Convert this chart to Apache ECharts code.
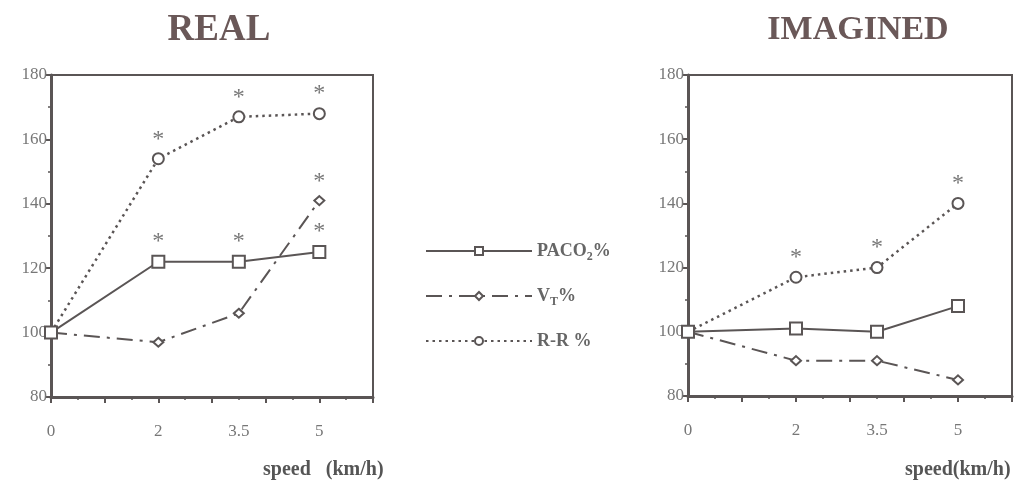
<!DOCTYPE html>
<html>
<head>
<meta charset="utf-8">
<script src="https://cdn.jsdelivr.net/npm/echarts@6/dist/echarts.min.js"></script>
<style>
  html, body { margin: 0; padding: 0; background: #fff; }
  #main { width: 1017px; height: 481px; }
</style>
</head>
<body>
<div id="main"></div>
<script>
// speeds (km/h) on the x axis
let speeds = [0, 2, 3.5, 5];
let speedLabels = [0, 2, 3.5, 5];

// REAL
let realPaco2 = [100, 122, 122, 125];
let realVt = [100, 97, 106, 141];
let realRr = [100, 154, 167, 168];
let realPaco2Sig = [0, 1, 1, 1];
let realVtSig = [0, 0, 0, 1];
let realRrSig = [0, 1, 1, 1];

// IMAGINED
let imgPaco2 = [100, 101, 100, 108];
let imgVt = [100, 91, 91, 85];
let imgRr = [100, 117, 120, 140];
let imgPaco2Sig = [0, 0, 0, 0];
let imgVtSig = [0, 0, 0, 0];
let imgRrSig = [0, 1, 1, 1];

const ink = '#5a5555';
const serif = '"Liberation Serif", "DejaVu Serif", serif';

function pts(vals) {
  return speeds.map(function (s, i) { return [s, vals[i]]; });
}

// asterisk over significant points
function starLabel(sig) {
  return {
    show: true,
    position: 'top',
    distance: 1,
    fontFamily: serif,
    fontSize: 24,
    color: '#777',
    formatter: function (p) { return sig[p.dataIndex] ? '*' : ''; }
  };
}

function xAxisOf(idx) {
  return {
    gridIndex: idx,
    type: 'value',
    min: 0,
    max: 6,
    interval: 1,
    axisLine: { show: true, onZero: false, lineStyle: { color: ink, width: 3 } },
    axisTick: { show: true, length: 6, lineStyle: { color: ink, width: 2 } },
    minorTick: { show: true, splitNumber: 2, length: 3, lineStyle: { color: ink, width: 1.5 } },
    axisLabel: {
      customValues: speedLabels,
      margin: 26,
      fontFamily: serif,
      fontSize: 17,
      color: '#777'
    },
    splitLine: { show: false }
  };
}

function yAxisOf(idx) {
  return {
    gridIndex: idx,
    type: 'value',
    min: 80,
    max: 180,
    interval: 20,
    axisLine: { show: true, lineStyle: { color: ink, width: 3 } },
    axisTick: { show: true, length: 6, lineStyle: { color: ink, width: 2 } },
    minorTick: { show: true, splitNumber: 2, length: 3, lineStyle: { color: ink, width: 1.5 } },
    axisLabel: { margin: 4, fontFamily: serif, fontSize: 17, color: '#777' },
    splitLine: { show: false }
  };
}

function seriesSet(idx, paco2, vt, rr, paco2Sig, vtSig, rrSig) {
  return [
    {
      name: 'PACO2%', type: 'line', xAxisIndex: idx, yAxisIndex: idx,
      data: pts(paco2),
      symbol: 'emptyRect', symbolSize: 12,
      lineStyle: { color: ink, width: 2, type: 'solid' },
      itemStyle: { color: ink, borderColor: ink, borderWidth: 2.5 },
      label: starLabel(paco2Sig),
      z: 3
    },
    {
      name: 'VT%', type: 'line', xAxisIndex: idx, yAxisIndex: idx,
      data: pts(vt),
      symbol: 'emptyDiamond', symbolSize: [10, 9],
      lineStyle: { color: ink, width: 2, type: [16, 7, 3, 7] },
      itemStyle: { color: ink, borderColor: ink, borderWidth: 1.5 },
      label: starLabel(vtSig),
      z: 2
    },
    {
      name: 'R-R %', type: 'line', xAxisIndex: idx, yAxisIndex: idx,
      data: pts(rr),
      symbol: 'emptyCircle', symbolSize: 11,
      lineStyle: { color: ink, width: 2.5, type: [2.5, 4] },
      itemStyle: { color: ink, borderColor: ink, borderWidth: 2.5 },
      label: starLabel(rrSig),
      z: 2
    }
  ];
}

let option = {
  backgroundColor: '#fff',
  animation: false,
  title: [
    { text: 'REAL', left: 214, top: 7, textAlign: 'center',
      textStyle: { fontFamily: serif, fontSize: 37, fontWeight: 'bold', color: '#6a5858' } },
    { text: 'IMAGINED', left: 853, top: 8, textAlign: 'center',
      textStyle: { fontFamily: serif, fontSize: 34, fontWeight: 'bold', color: '#6a5858' } }
  ],
  legend: {
    orient: 'vertical',
    left: 420,
    top: 237,
    itemWidth: 106,
    itemHeight: 10,
    itemGap: 24,
    data: ['PACO2%', 'VT%', 'R-R %'],
    formatter: function (name) {
      if (name === 'PACO2%') return 'PACO{sub|2}%';
      if (name === 'VT%') return 'V{sub|T}%';
      return name;
    },
    textStyle: {
      fontFamily: serif, fontSize: 18, fontWeight: 'bold', color: '#666',
      rich: {
        sub: { fontFamily: serif, fontSize: 12, fontWeight: 'bold', color: '#666', padding: [12, 0, 0, 0] }
      }
    }
  },
  grid: [
    { left: 51, top: 75, width: 322, height: 322, show: true, borderColor: ink, borderWidth: 2, backgroundColor: 'transparent' },
    { left: 688, top: 75, width: 324, height: 321, show: true, borderColor: ink, borderWidth: 2, backgroundColor: 'transparent' }
  ],
  xAxis: [xAxisOf(0), xAxisOf(1)],
  yAxis: [yAxisOf(0), yAxisOf(1)],
  series: [].concat(
    seriesSet(0, realPaco2, realVt, realRr, realPaco2Sig, realVtSig, realRrSig),
    seriesSet(1, imgPaco2, imgVt, imgRr, imgPaco2Sig, imgVtSig, imgRrSig)
  ),
  graphic: [
    { type: 'text', left: 263, top: 460,
      style: { text: 'speed   (km/h)', fontFamily: serif, fontSize: 20, fontWeight: 'bold', fill: '#555' } },
    { type: 'text', left: 905, top: 460,
      style: { text: 'speed(km/h)', fontFamily: serif, fontSize: 20, fontWeight: 'bold', fill: '#555' } }
  ]
};

let myChart = echarts.init(document.getElementById('main'));
myChart.setOption(option);
</script>
</body>
</html>
